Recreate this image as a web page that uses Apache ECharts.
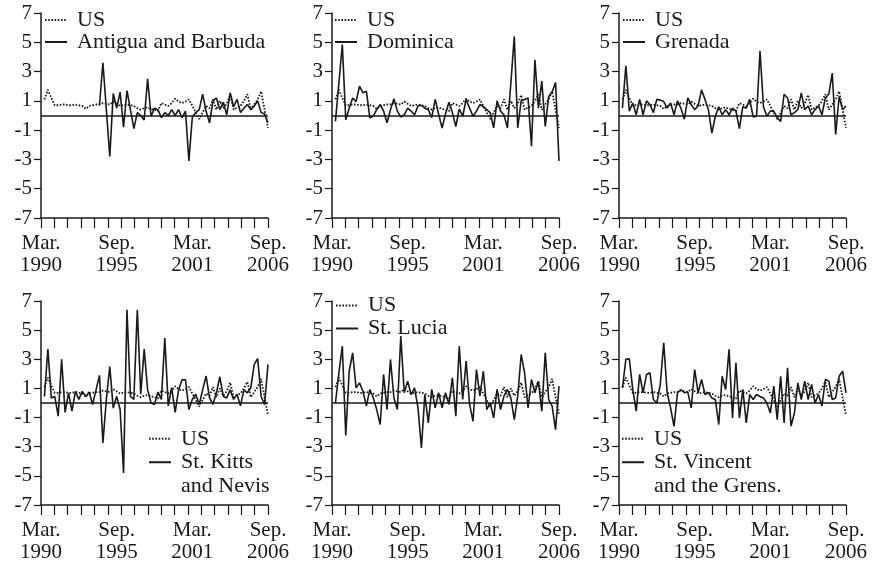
<!DOCTYPE html>
<html>
<head>
<meta charset="utf-8">
<script src="https://cdn.jsdelivr.net/npm/echarts@6/dist/echarts.min.js"></script>
<style>
html, body { margin: 0; padding: 0; background: #fff; }
#chart { width: 873px; height: 566px; }
</style>
</head>
<body>
<div id="chart"></div>
<script>
// quarterly inflation, Jun 1990 .. Sep 2006 (index 1..66, Mar 1990 = 0)
var usValues = [1.1, 1.75, 1.2, 0.7, 0.7, 0.75, 0.75, 0.7, 0.7, 0.75, 0.7, 0.65, 0.45, 0.65, 0.7, 0.75, 0.75, 0.85, 0.8, 0.75,
  0.95, 0.8, 0.65, 0.7, 0.75, 0.7, 0.65, 0.5, 0.4, 0.5, 0.55, 0.45, 0.4, 0.3, 0.85, 0.75, 0.65, 0.85, 1.15, 0.95,
  0.85, 0.95, 1.1, 0.65, 0.2, -0.25, 0.2, 0.65, 0.5, 1.1, 0.4, 1.0, 0.5, 0.8, 1.4, 0.4, 0.55, 0.65, 1.0, 1.45,
  0.4, 0.75, 1.1, 1.65, 0.4, -0.85];
var antiguaValues = [null, null, null, null, null, null, null, null, null, null, null, null, null, null, null, null,
  0.7, 3.6, 0.4, -2.8, 1.5, 0.5, 1.6, -0.8, 1.7, 0.4, -0.9, 0.2, 0.0, -0.3, 2.5, -0.05, 0.5, 0.4, -0.15, 0.2,
  0.0, 0.4, 0.0, 0.4, -0.15, 0.3, -3.1, -0.1, 0.2, 0.4, 1.45, 0.3, -0.5, 1.0, 1.2, 0.4, 0.9, 0.05, 1.55, 0.6,
  1.1, 0.2, 0.5, 0.75, 0.4, 0.65, 1.0, 0.2, 0.1, -0.5];
var dominicaValues = [-0.4, 2.2, 4.85, -0.3, 0.5, 1.2, 0.95, 2.0, 1.55, 1.65, -0.15, -0.05, 0.4, 0.75, 0.3, -0.5, 0.4, 1.15, 0.3, -0.1,
  0.05, 0.5, 0.3, 0.05, 0.65, 0.7, 0.5, 0.4, -0.15, 1.1, 0.1, -0.85, 0.1, 0.9, 0.2, -0.75, 0.45, -0.05, 1.1, 0.5,
  -0.05, 0.3, 0.75, 0.6, 0.4, 0.2, -0.85, 1.0, 0.3, 0.05, -0.85, 2.2, 5.4, -0.85, 1.0, 1.1, 1.2, -2.1, 3.8, 0.5,
  2.35, -0.75, 1.3, 1.6, 2.25, -3.1];
var grenadaValues = [0.5, 3.4, 0.3, 0.85, 0.05, 1.1, 0.05, 1.0, 0.75, 0.2, 1.1, 1.05, 0.95, 0.5, 0.85, 0.05, 1.0, 0.5, -0.25, 1.2,
  0.75, 0.4, 0.65, 1.75, 1.1, 0.4, -1.2, -0.05, 0.6, 0.05, 0.4, 0.05, 0.5, 0.3, -0.9, 0.6, 0.5, 1.1, -0.1, -0.05,
  4.4, 0.6, -0.05, 0.3, 0.3, -0.15, -0.4, 1.45, 1.2, 0.05, 0.2, 0.4, 1.55, 0.4, 0.65, 0.05, 0.4, 0.65, 0.05, 1.2,
  1.45, 2.9, -1.3, 1.3, 0.4, 0.65];
var stKittsValues = [0.45, 3.7, 0.35, 0.45, -0.9, 3.0, -0.65, 0.7, -0.55, 0.8, 0.25, 0.8, 0.45, 0.75, -0.1, 0.9, 1.9, -2.75, 0.25, 2.5,
  -0.35, 0.45, -0.45, -4.8, 6.4, 0.45, 0.25, 6.4, 0.6, 3.7, 0.9, 0.0, -0.1, 0.75, 0.25, 4.45, -0.2, 1.05, -0.65, 0.9,
  1.6, 1.6, -0.45, 0.25, 0.6, -0.1, 0.9, 1.85, 0.35, -0.1, 0.7, 1.8, 0.45, 0.35, 0.9, 0.25, 0.6, -0.2, 0.9, 0.7,
  1.05, 2.65, 3.05, 0.45, -0.1, 2.65];
var stLuciaValues = [0, 2.07, 3.9, -2.23, 2.18, 3.44, 1.04, 1.38, 0.81, -0.21, 0.93, 0.35, -0.45, -1.48, 1.96, -0.45, 2.99, 0.35, -0.45, 4.59,
  0.7, 1.5, 0.58, 1.04, -0.33, -3.08, 0.58, -1.37, 0.93, -0.33, 0.7, -0.33, 0.7, -0.1, 1.73, -0.9, 3.9, 0.24, 2.88, -0.1,
  -1.25, 2.3, 0.47, 2.18, -0.45, 0, -1.02, 0.93, -0.45, 0.47, 0.93, 0.35, -1.14, 0.47, 3.33, 2.07, -0.33, 1.61, 0.7, 1.5,
  -0.56, 3.44, 0.24, -0.21, -1.83, 1.16];
var stVincentValues = [1.04, 3.0, 3.03, 0.93, -0.56, 1.96, 0.7, 1.96, 2.07, 0.24, 0, 1.27, 4.13, 0.7, -0.33, -1.6, 0.7, 0.93, 0.7, 0.75,
  -0.33, 2.3, 0.7, 1.61, 0.58, 0.7, 0.35, 0.24, -1.48, 1.84, 0.93, 3.68, -1.02, 2.76, -1.02, 0.93, -1.37, 0.58, 0.24, 0.58,
  0.45, 0.35, 0, -0.68, 1.16, -1.14, 1.84, -1.37, 2.41, -1.6, -0.68, 1.38, 0.24, 1.5, 0.24, 1.27, 0, 0.58, -0.21, 1.61,
  1.5, 0.24, 0.35, 1.84, 2.18, 0.7];

var countryNames = ['Antigua and Barbuda', 'Dominica', 'Grenada', 'St. Kitts and Nevis', 'St. Lucia', 'St. Vincent and the Grens.'];
var countryValues = [antiguaValues, dominicaValues, grenadaValues, stKittsValues, stLuciaValues, stVincentValues];
var legendText = {
  'St. Kitts and Nevis': '\nSt. Kitts\nand Nevis',
  'St. Vincent and the Grens.': '\nSt. Vincent\nand the Grens.'
};

var xTickQuarters = [0, 22, 44, 66];
var xTickLabels = ['Mar.\n1990', 'Sep.\n1995', 'Mar.\n2001', 'Sep.\n2006'];
var yTickValues = [-7, -5, -3, -1, 1, 3, 5, 7];

var FONT = "'Liberation Serif', 'DejaVu Serif', serif";
var INK = '#1a1a1a';

var panels = [
  { left: 41,  top: 13,  height: 205, legendLeft: 44,  legendTop: 9,   lh: 19.5 },
  { left: 332, top: 13,  height: 205, legendLeft: 334, legendTop: 9,   lh: 19.5 },
  { left: 619, top: 13,  height: 205, legendLeft: 622, legendTop: 9,   lh: 19.5 },
  { left: 41,  top: 301, height: 204, legendLeft: 148, legendTop: 427, lh: 23.5 },
  { left: 332, top: 301, height: 204, legendLeft: 335, legendTop: 294, lh: 23 },
  { left: 619, top: 301, height: 204, legendLeft: 621, legendTop: 427, lh: 23.5 }
];

// minor ticks: 17 equal steps along the axis
var xMinorTicks = [];
for (var k = 0; k <= 17; k++) xMinorTicks.push(k * 66 / 17);

function toPairs(vals) {
  var out = [];
  vals.forEach(function (v, i) { if (v !== null) out.push([i + 1, v]); });
  return out;
}

var grid = [], xAxis = [], yAxis = [], series = [], legend = [];
panels.forEach(function (p, n) {
  grid.push({ left: p.left, top: p.top, width: 227, height: p.height });
  xAxis.push({
    type: 'value', gridIndex: n, min: 0, max: 66,
    axisLine: { onZero: false, lineStyle: { color: INK, width: 1.5 } },
    axisTick: { customValues: xMinorTicks, length: 10, lineStyle: { color: INK, width: 1.2 } },
    axisLabel: {
      customValues: xTickQuarters, showMinLabel: true, showMaxLabel: true,
      formatter: function (v) { return xTickLabels[xTickQuarters.indexOf(Math.round(v))] || ''; },
      fontFamily: FONT, fontSize: 21, color: INK, lineHeight: 22, margin: 14
    },
    splitLine: { show: false }
  });
  yAxis.push({
    type: 'value', gridIndex: n, min: -7, max: 7, interval: 1,
    axisLine: { show: true, onZero: false, lineStyle: { color: INK, width: 1.5 } },
    axisTick: { show: true, customValues: yTickValues, length: 7, lineStyle: { color: INK, width: 1.2 } },
    axisLabel: {
      customValues: yTickValues, showMinLabel: true, showMaxLabel: true,
      fontFamily: FONT, fontSize: 21, color: INK, margin: 9
    },
    splitLine: { show: false }
  });
  series.push({
    name: 'US', type: 'line', xAxisIndex: n, yAxisIndex: n,
    data: toPairs(usValues), symbol: 'none',
    itemStyle: { color: INK },
    lineStyle: { color: INK, width: 1.8, type: [1.6, 1.6] }
  });
  series.push({
    name: countryNames[n], type: 'line', xAxisIndex: n, yAxisIndex: n,
    data: toPairs(countryValues[n]), symbol: 'none',
    itemStyle: { color: INK },
    lineStyle: { color: INK, width: 1.6 },
    markLine: {
      silent: true, symbol: 'none', label: { show: false },
      lineStyle: { color: INK, type: 'solid', width: 1.5 },
      data: [{ yAxis: 0 }]
    }
  });
  legend.push({
    left: p.legendLeft, top: p.legendTop, orient: 'vertical', padding: 0,
    itemGap: legendText[countryNames[n]] ? -p.lh : 0,
    itemWidth: 22, itemHeight: 10, selectedMode: false,
    itemStyle: { opacity: 0 },
    data: ['US', countryNames[n]],
    formatter: function (name) { return legendText[name] || name; },
    textStyle: { fontFamily: FONT, fontSize: 22, color: INK, lineHeight: p.lh, padding: [0, 0, 0, 5] }
  });
});

var myChart = echarts.init(document.getElementById('chart'));
myChart.setOption({
  animation: false,
  backgroundColor: '#fff',
  grid: grid,
  xAxis: xAxis,
  yAxis: yAxis,
  legend: legend,
  series: series
});
</script>
</body>
</html>
